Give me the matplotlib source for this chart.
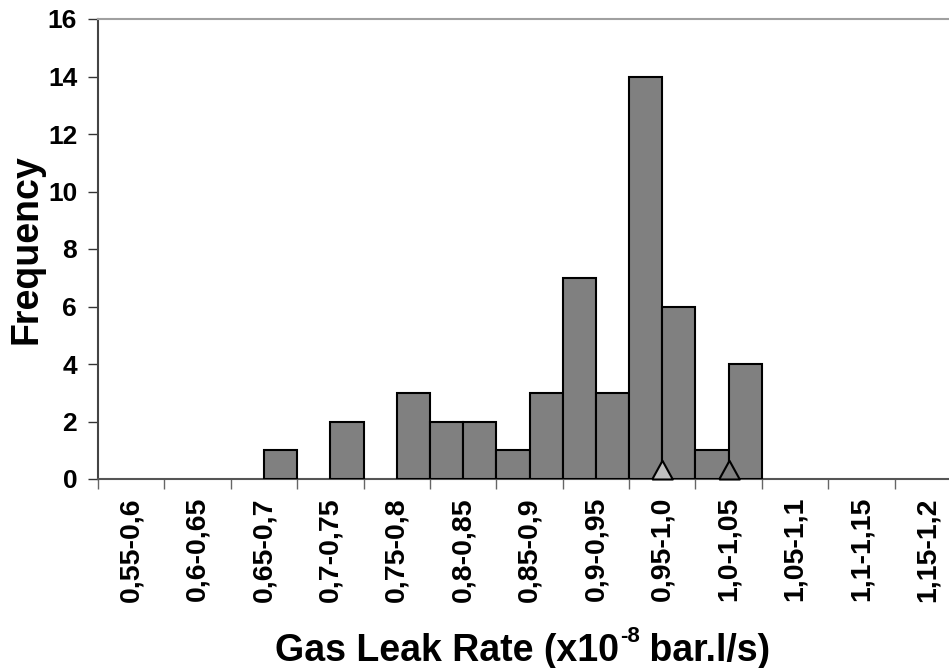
import numpy as np
import matplotlib.pyplot as plt

# Dados do histograma (limite inferior de cada classe, largura 0,025)
limites = [0.675, 0.725, 0.775, 0.800, 0.825, 0.850, 0.875, 0.900, 0.925, 0.950, 0.975, 1.000, 1.025]
frequencia = [1, 2, 3, 2, 2, 1, 3, 7, 3, 14, 6, 1, 4]
largura = 0.025

# Faixas do eixo x
bordas = [0.55, 0.60, 0.65, 0.70, 0.75, 0.80, 0.85, 0.90, 0.95, 1.00, 1.05, 1.10, 1.15, 1.20]
rotulos = ['0,55-0,6', '0,6-0,65', '0,65-0,7', '0,7-0,75', '0,75-0,8', '0,8-0,85', '0,85-0,9',
           '0,9-0,95', '0,95-1,0', '1,0-1,05', '1,05-1,1', '1,1-1,15', '1,15-1,2']

# Marcadores (triângulos) sobre o eixo
marcadores_x = [0.975, 1.025]
marcadores_cor = ['#c0c0c0', '#808080']

plt.rcParams['font.family'] = ['Liberation Sans', 'DejaVu Sans']
plt.rcParams['font.weight'] = 'bold'

fig = plt.figure(figsize=(9.49, 6.68), dpi=100)
ax = fig.add_axes([98 / 949, 1 - 479 / 668, 863 / 949, 460 / 668])

ax.bar(limites, frequencia, width=largura, align='edge', color='#808080',
       edgecolor='black', linewidth=1.5, zorder=3)

# triângulo com a base no ponto
tri = [(-1.1, 0), (1.1, 0), (0, 2), (-1.1, 0)]
for x, c in zip(marcadores_x, marcadores_cor):
    ax.plot([x], [0], marker=tri, markersize=27, markerfacecolor=c,
            markeredgecolor='black', markeredgewidth=1.5, linestyle='none',
            zorder=4, clip_on=False)

ax.set_xlim(bordas[0], bordas[-1])
ax.set_ylim(0, 16)
ax.set_yticks(np.arange(0, 17, 2))
ax.set_xticks(bordas)
ax.set_xticklabels([])
centros = [(a + b) / 2 for a, b in zip(bordas[:-1], bordas[1:])]
ax.set_xticks(centros, minor=True)
ax.set_xticklabels(rotulos, minor=True, rotation=90, fontsize=20.5, fontweight='bold')
ax.tick_params(axis='x', which='minor', length=0, pad=13)
ax.tick_params(axis='x', which='major', length=7, width=1, color='#666666')
ax.tick_params(axis='y', length=7, width=1, labelsize=19, pad=8, color='#333333')
for lbl in ax.get_yticklabels():
    lbl.set_fontweight('bold')

ax.spines['left'].set_color('#444444')
ax.spines['left'].set_linewidth(1.5)
ax.spines['bottom'].set_color('#555555')
ax.spines['bottom'].set_linewidth(1.5)
ax.spines['top'].set_color('#a0a0a0')
ax.spines['top'].set_linewidth(1.5)
ax.spines['right'].set_visible(False)

fig.text(27 / 949, 1 - 249 / 668, 'Frequency', rotation=90, ha='center', va='center',
         fontsize=27, fontweight='bold')

# rótulo do eixo x com expoente
t1 = fig.text(275 / 949, 1 - 661 / 668, 'Gas Leak Rate (x10', ha='left', va='baseline',
              fontsize=27, fontweight='bold')
t2 = ax.annotate('-8', xy=(1, 1), xycoords=t1, xytext=(0.5, 5), textcoords='offset points',
                 ha='left', va='top', fontsize=16, fontweight='bold', annotation_clip=False)
ax.annotate(' bar.l/s)', xy=(1, 0), xycoords=(t2, t1), xytext=(0, 0), textcoords='offset points',
            ha='left', va='bottom', fontsize=27, fontweight='bold', annotation_clip=False)

fig.savefig('out.png', dpi=100)
